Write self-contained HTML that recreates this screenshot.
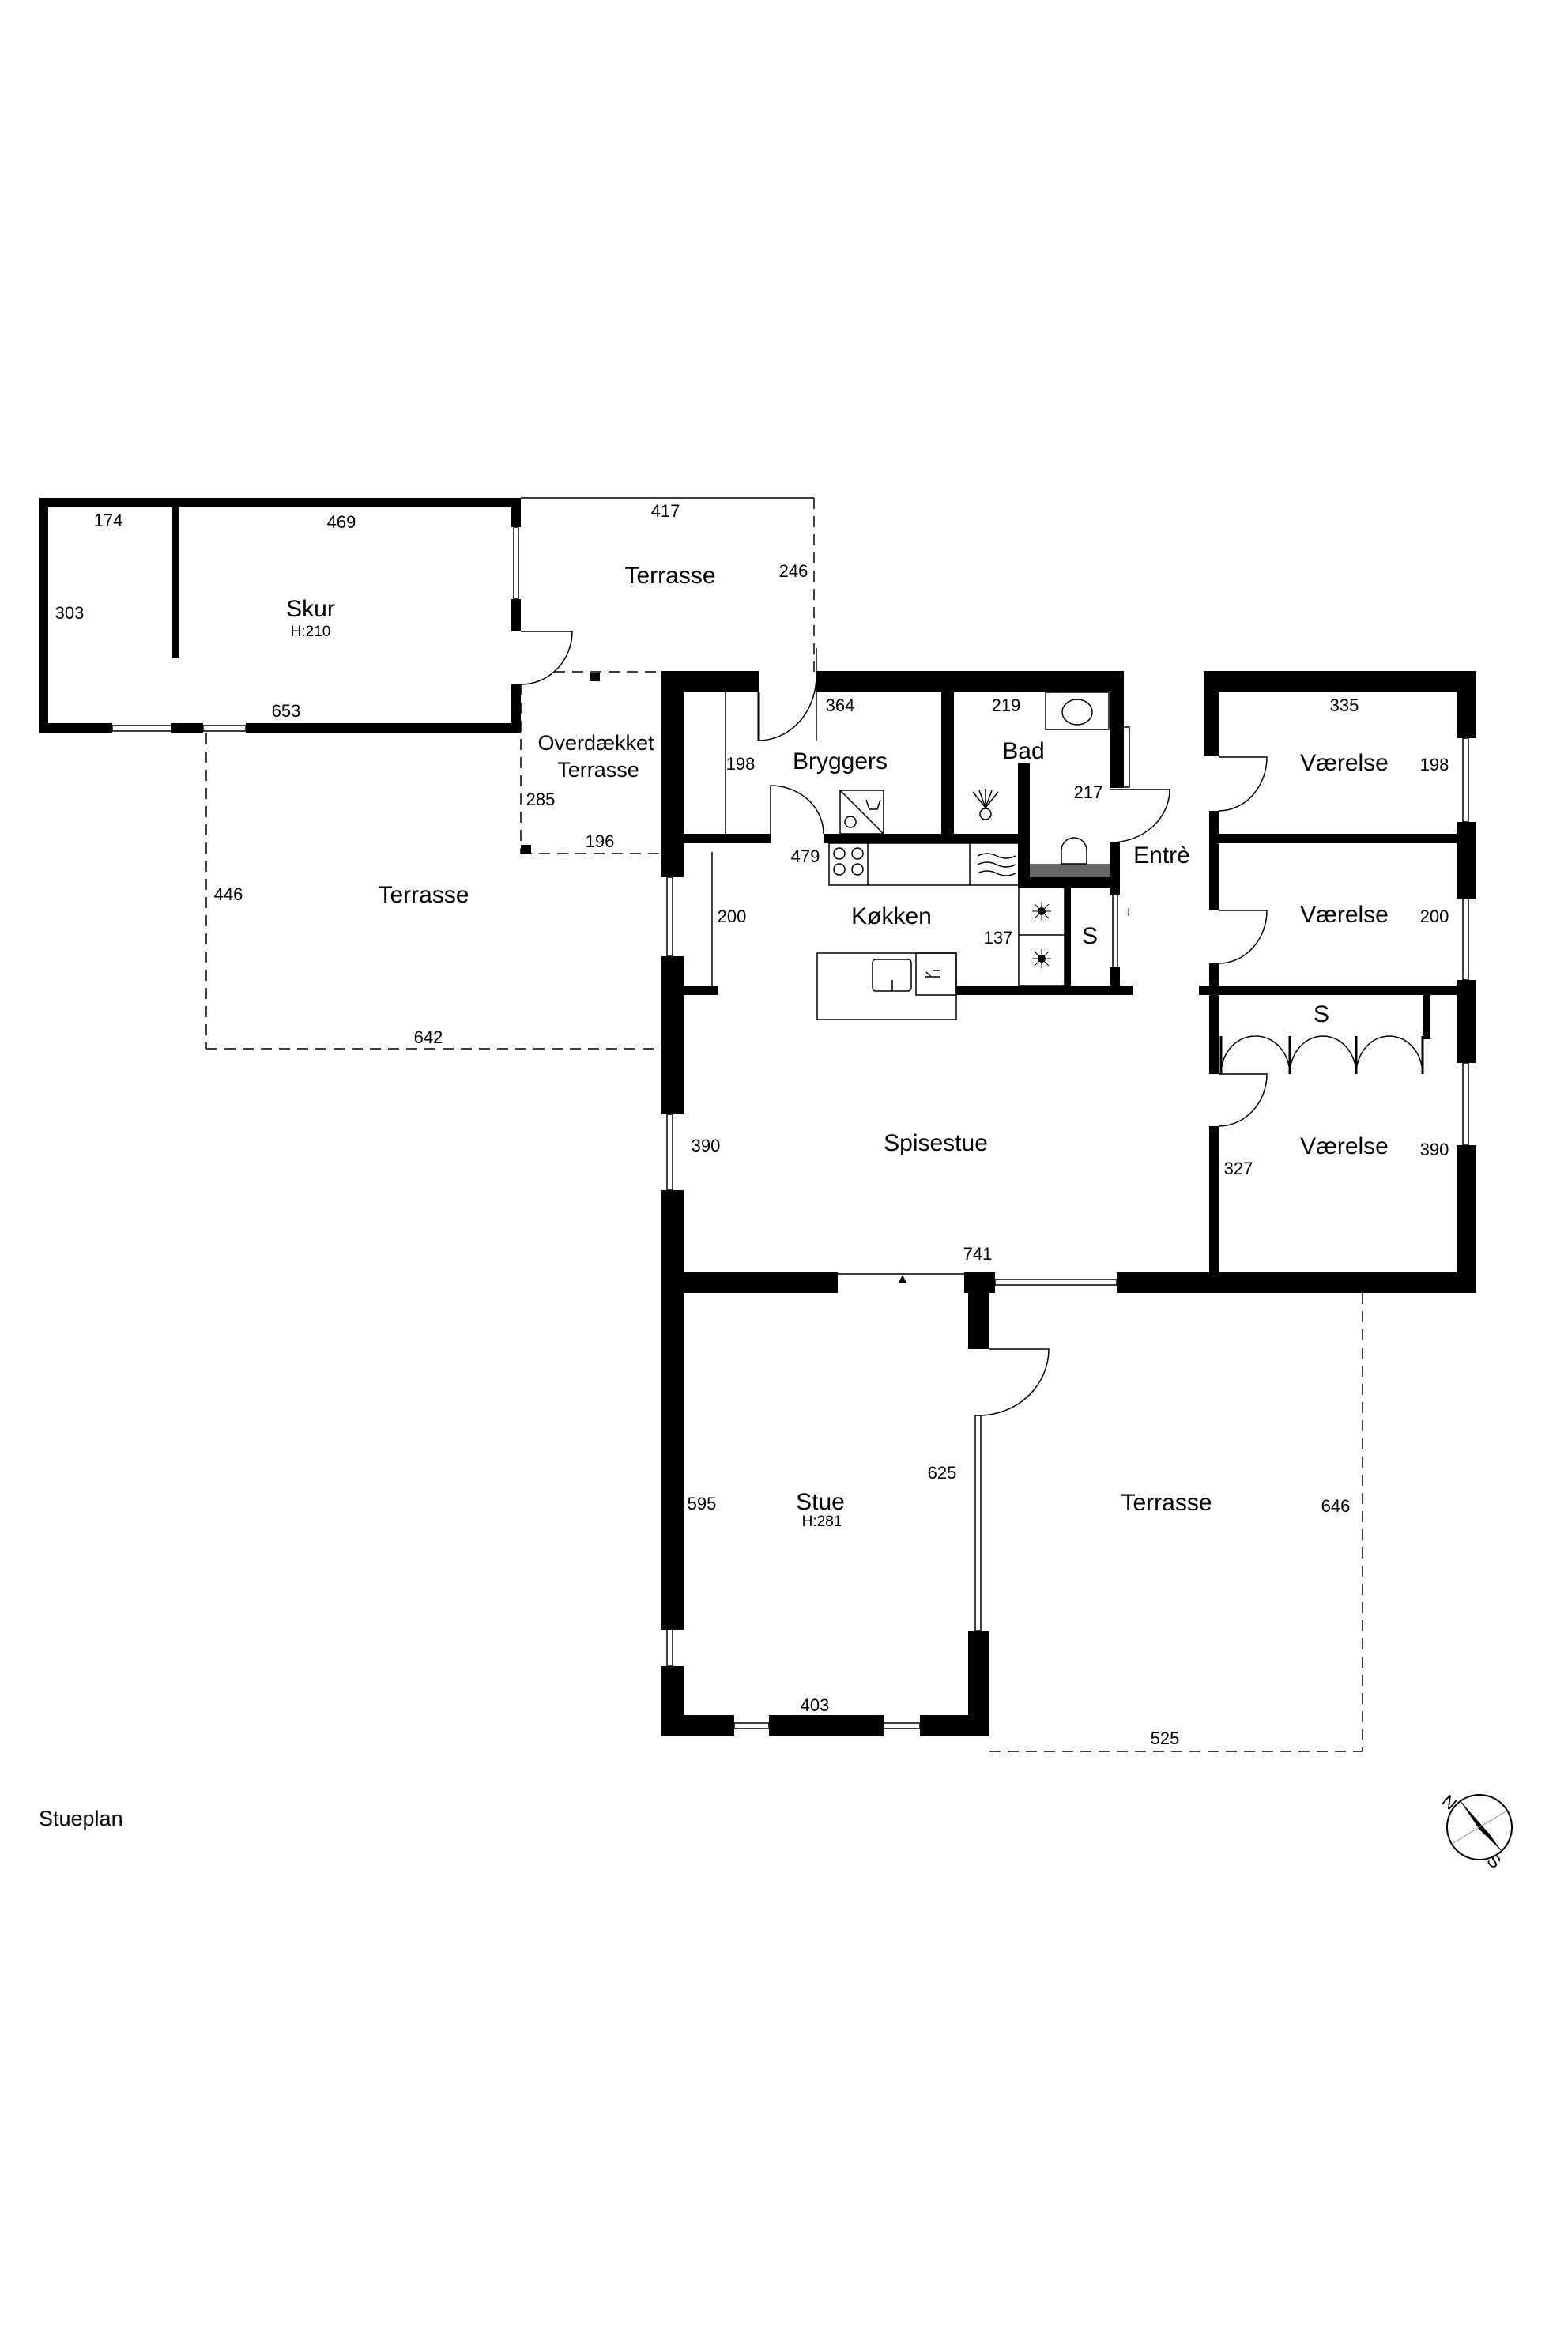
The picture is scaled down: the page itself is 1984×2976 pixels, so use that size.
<!DOCTYPE html>
<html><head><meta charset="utf-8"><style>
html,body{margin:0;padding:0;background:#fff}
svg{display:block}
text{font-family:"Liberation Sans",sans-serif;fill:#000}
.n{font-size:22px;text-anchor:middle}
.r{font-size:30px;text-anchor:middle}
.h{font-size:19px;text-anchor:middle}
</style></head><body>
<svg width="1984" height="2976" viewBox="0 0 1984 2976" xmlns="http://www.w3.org/2000/svg">
<g fill="#000">
<rect x="49" y="630" width="610" height="12"/>
<rect x="49" y="630" width="12" height="298"/>
<rect x="647" y="630" width="12" height="37"/>
<rect x="647" y="758" width="12" height="41"/>
<rect x="647" y="866" width="12" height="62"/>
<rect x="49" y="915" width="93" height="13"/>
<rect x="217" y="915" width="40" height="13"/>
<rect x="311" y="915" width="348" height="13"/>
<rect x="218" y="642" width="8" height="191"/>
<rect x="746" y="851" width="13" height="11"/>
<rect x="659" y="1069" width="13" height="12"/>
<rect x="837" y="849" width="123" height="27"/>
<rect x="1033" y="849" width="389" height="27"/>
<rect x="837" y="849" width="28" height="261"/>
<rect x="837" y="1210" width="28" height="200"/>
<rect x="837" y="1506" width="28" height="556"/>
<rect x="837" y="2108" width="28" height="89"/>
<rect x="863" y="1248" width="46" height="11"/>
<rect x="865" y="1055" width="110" height="12"/>
<rect x="1042" y="1055" width="261" height="12"/>
<rect x="1191" y="876" width="16" height="185"/>
<rect x="1405" y="849" width="17" height="148"/>
<rect x="1288" y="966" width="15" height="157"/>
<rect x="1288" y="1110" width="129" height="13"/>
<rect x="1303" y="1093" width="101" height="17" fill="#666"/>
<rect x="1405" y="1066" width="12" height="66"/>
<rect x="1405" y="1224" width="12" height="24"/>
<rect x="1210" y="1247" width="223" height="12"/>
<rect x="1347" y="1123" width="8" height="124"/>
<rect x="1523" y="849" width="345" height="27"/>
<rect x="1523" y="849" width="19" height="108"/>
<rect x="1530" y="1026" width="12" height="126"/>
<rect x="1530" y="1219" width="12" height="140"/>
<rect x="1530" y="1425" width="12" height="210"/>
<rect x="1530" y="1055" width="313" height="12"/>
<rect x="1517" y="1247" width="326" height="12"/>
<rect x="1801" y="1259" width="9" height="56"/>
<rect x="1843" y="849" width="25" height="85"/>
<rect x="1843" y="1040" width="25" height="97"/>
<rect x="1843" y="1240" width="25" height="105"/>
<rect x="1843" y="1449" width="25" height="187"/>
<rect x="837" y="1610" width="223" height="26"/>
<rect x="1220" y="1610" width="39" height="26"/>
<rect x="1413" y="1610" width="455" height="26"/>
<rect x="1225" y="1610" width="27" height="97"/>
<rect x="838" y="2170" width="91" height="27"/>
<rect x="973" y="2170" width="145" height="27"/>
<rect x="1164" y="2170" width="88" height="27"/>
<rect x="1225" y="2064" width="27" height="133"/>
</g>
<g fill="none" stroke="#000" stroke-width="1.5">
<rect x="650" y="667" width="6" height="91"/>
<rect x="142" y="918" width="75" height="7"/>
<rect x="257" y="918" width="54" height="7"/>
<rect x="844" y="1110" width="7" height="100"/>
<rect x="844" y="1410" width="7" height="96"/>
<rect x="844" y="2062" width="7" height="46"/>
<rect x="929" y="2180" width="44" height="7"/>
<rect x="1118" y="2180" width="46" height="7"/>
<rect x="1259" y="1619" width="154" height="7"/>
<rect x="1234" y="1791" width="7" height="273"/>
<rect x="1408" y="1132" width="6" height="92"/>
<rect x="1418" y="920" width="11" height="76"/>
<rect x="1851" y="934" width="7" height="106"/>
<rect x="1851" y="1137" width="7" height="103"/>
<rect x="1851" y="1345" width="7" height="104"/>
<line x1="659" y1="630" x2="1030" y2="630"/>
<line x1="1030" y1="630" x2="1030" y2="850" stroke-dasharray="14,9"/>
<line x1="701" y1="850" x2="837" y2="850" stroke-dasharray="14,9"/>
<line x1="659" y1="866" x2="659" y2="1080" stroke-dasharray="14,9"/>
<line x1="659" y1="1080" x2="837" y2="1080" stroke-dasharray="14,9"/>
<line x1="261" y1="928" x2="261" y2="1327" stroke-dasharray="14,9"/>
<line x1="261" y1="1327" x2="837" y2="1327" stroke-dasharray="14,9"/>
<line x1="1724" y1="1636" x2="1724" y2="2216" stroke-dasharray="14,9"/>
<line x1="1252" y1="2216" x2="1724" y2="2216" stroke-dasharray="14,9"/>
<path d="M659 799 H724 A65 67 0 0 1 659 866"/>
<path d="M1033 820 V937 M1033 855 A73 82 0 0 1 960 937"/>
<line x1="960" y1="876" x2="960" y2="937" stroke-width="3"/>
<path d="M975 1055 V994 A67 61 0 0 1 1042 1055"/>
<path d="M1405 999 H1480 A75 67 0 0 1 1405 1066"/>
<path d="M1542 958 H1603 A61 68 0 0 1 1542 1026"/>
<path d="M1542 1152 H1603 A61 67 0 0 1 1542 1219"/>
<path d="M1542 1359 H1603 A61 66 0 0 1 1542 1425"/>
<path d="M1252 1707 H1327 A89 84 0 0 1 1238 1791"/>
<line x1="1060" y1="1612" x2="1220" y2="1612"/>
<line x1="1545" y1="1311" x2="1545" y2="1359" stroke-width="3"/>
<line x1="1632" y1="1311" x2="1632" y2="1359" stroke-width="3"/>
<line x1="1716" y1="1311" x2="1716" y2="1359" stroke-width="3"/>
<line x1="1800" y1="1311" x2="1800" y2="1359" stroke-width="3"/>
<path d="M1545 1359 A43 48 0 0 1 1588 1311 A43 48 0 0 1 1632 1359 A42 48 0 0 1 1674 1311 A42 48 0 0 1 1716 1359 A42 48 0 0 1 1758 1311 A42 48 0 0 1 1800 1359"/>
<line x1="918" y1="876" x2="918" y2="1055"/>
<line x1="901" y1="1078" x2="901" y2="1248"/>
<rect x="1063" y="1000" width="55" height="55"/>
<line x1="1063" y1="1000" x2="1118" y2="1055"/>
<circle cx="1076" cy="1040" r="7"/>
<path d="M1096 1012 l4 12 h10 l4 -12"/>
<rect x="1323" y="876" width="80" height="47"/>
<ellipse cx="1363" cy="901" rx="19" ry="16"/>
<path d="M1247 1022 l-16 -20 M1247 1022 l-8 -22 M1247 1022 v-24 M1247 1022 l8 -22 M1247 1022 l16 -20"/>
<circle cx="1247" cy="1030" r="7"/>
<path d="M1343 1093 V1076 A16 16 0 0 1 1375 1076 V1093 Z"/>
<rect x="1049" y="1067" width="240" height="53"/>
<line x1="1098" y1="1067" x2="1098" y2="1120"/>
<line x1="1227" y1="1067" x2="1227" y2="1120"/>
<circle cx="1062" cy="1080" r="7"/><circle cx="1085" cy="1080" r="7"/>
<circle cx="1062" cy="1100" r="7"/><circle cx="1085" cy="1100" r="7"/>
<path d="M1237 1083 q12 -6 24 0 t24 0 M1237 1094 q12 -6 24 0 t24 0 M1237 1105 q12 -6 24 0 t24 0"/>
<rect x="1289" y="1123" width="58" height="124"/>
<line x1="1289" y1="1183" x2="1347" y2="1183"/>
<rect x="1034" y="1206" width="176" height="84"/>
<rect x="1104" y="1214" width="49" height="40" rx="4"/>
<line x1="1129" y1="1240" x2="1129" y2="1254"/>
<rect x="1159" y="1206" width="51" height="53"/>
<path d="M1170 1236 h20 M1172 1230 l6 6 M1180 1228 h10"/>
</g>
<circle cx="1318" cy="1153" r="5"/><circle cx="1318" cy="1213" r="5"/>
<path d="M1306 1153 h24 M1318 1141 v24 M1309 1144 l18 18 M1327 1144 l-18 18 M1306 1213 h24 M1318 1201 v24 M1309 1204 l18 18 M1327 1204 l-18 18" stroke="#000" stroke-width="1"/>
<polygon points="1142,1613 1137,1623 1147,1623" fill="#000"/>
<circle cx="1872" cy="2312" r="41" fill="none" stroke="#000" stroke-width="2"/>
<polygon points="1847,2278 1885,2321 1899,2341 1872,2315" fill="#000"/>
<line x1="1847" y1="2278" x2="1899" y2="2341" stroke="#000"/>
<line x1="1837" y1="2333" x2="1907" y2="2291" stroke="#888"/>
<text x="1823" y="2281" style="font-size:22px" transform="rotate(40 1823 2281)">N</text>
<text x="1880" y="2356" style="font-size:22px" transform="rotate(40 1880 2356)">S</text>
<text class="n" x="137" y="666">174</text>
<text class="n" x="432" y="668">469</text>
<text class="n" x="88" y="783">303</text>
<text class="r" x="393" y="780">Skur</text>
<text class="h" x="393" y="805">H:210</text>
<text class="n" x="362" y="907">653</text>
<text class="n" x="842" y="654">417</text>
<text class="r" x="848" y="738">Terrasse</text>
<text class="n" x="1004" y="730">246</text>
<text class="r" x="754" y="949" style="font-size:27px">Overdækket</text>
<text class="r" x="757" y="983" style="font-size:27px">Terrasse</text>
<text class="n" x="684" y="1019">285</text>
<text class="n" x="759" y="1072">196</text>
<text class="n" x="289" y="1139">446</text>
<text class="r" x="536" y="1142">Terrasse</text>
<text class="n" x="542" y="1320">642</text>
<text class="n" x="937" y="974">198</text>
<text class="n" x="1063" y="900">364</text>
<text class="r" x="1063" y="973">Bryggers</text>
<text class="n" x="1273" y="900">219</text>
<text class="r" x="1295" y="960">Bad</text>
<text class="n" x="1377" y="1010">217</text>
<text class="r" x="1470" y="1092">Entrè</text>
<text class="n" x="1019" y="1091">479</text>
<text class="r" x="1128" y="1169">Køkken</text>
<text class="n" x="926" y="1167">200</text>
<text class="n" x="1263" y="1194">137</text>
<text class="r" x="1379" y="1194">S</text>
<text x="1424" y="1158" style="font-size:16px">↓</text>
<text class="n" x="1701" y="900">335</text>
<text class="r" x="1701" y="975">Værelse</text>
<text class="n" x="1815" y="975">198</text>
<text class="r" x="1701" y="1167">Værelse</text>
<text class="n" x="1815" y="1167">200</text>
<text class="r" x="1672" y="1293">S</text>
<text class="r" x="1701" y="1460">Værelse</text>
<text class="n" x="1815" y="1462">390</text>
<text class="n" x="1567" y="1486">327</text>
<text class="r" x="1184" y="1456">Spisestue</text>
<text class="n" x="893" y="1457">390</text>
<text class="n" x="1237" y="1594">741</text>
<text class="r" x="1038" y="1910">Stue</text>
<text class="h" x="1040" y="1931">H:281</text>
<text class="n" x="888" y="1910">595</text>
<text class="n" x="1192" y="1871">625</text>
<text class="r" x="1476" y="1911">Terrasse</text>
<text class="n" x="1690" y="1913">646</text>
<text class="n" x="1031" y="2165">403</text>
<text class="n" x="1474" y="2207">525</text>
<text x="49" y="2310" style="font-size:27px">Stueplan</text>
</svg>
</body></html>
